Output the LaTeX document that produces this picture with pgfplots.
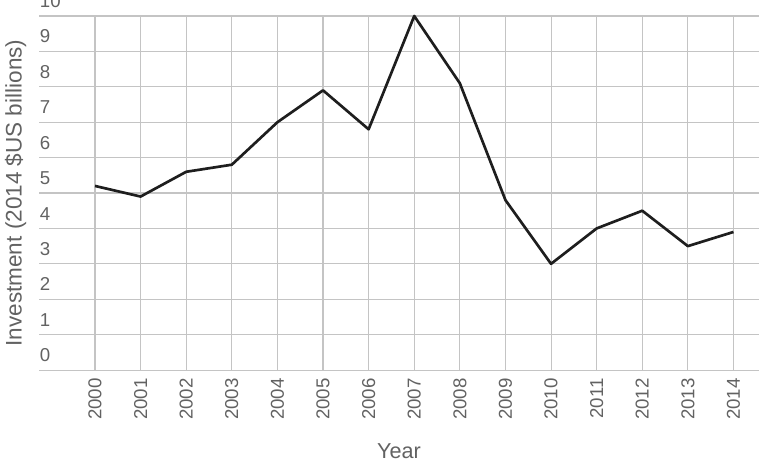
\documentclass[border=0pt]{standalone}
\usepackage{fontspec}
\setmainfont{Liberation Sans}
\usepackage{pgfplots}
\pgfplotsset{compat=1.18}
\definecolor{txt}{HTML}{626262}
\definecolor{gridc}{HTML}{C4C4C4}
\definecolor{linec}{HTML}{1E1E1E}
\begin{document}
\begin{tikzpicture}
\begin{axis}[
  scale only axis,
  width=539.95pt, height=265.5pt,
  xmin=1998.772, xmax=2014.56,
  ymin=0, ymax=10,
  xtick={2000,2001,...,2014},
  ytick={0,1,...,10},
  xticklabel={\pgfmathprintnumber[1000 sep={}]{\tick}},
  /pgf/number format/assume math mode=true,
  /pgf/number format/1000 sep={},
  grid=major,
  major grid style={draw=gridc, line width=0.8pt},
  axis line style={draw=none},
  major tick length=0pt,
  tick label style={font=\fontsize{14}{16}\selectfont, text=txt},
  xticklabel style={rotate=90, anchor=east, inner sep=0pt},
  xticklabel shift=6pt,
  yticklabel style={anchor=south west, inner sep=0pt, xshift=0.5pt, yshift=6pt},
  every axis y label/.style={at={(rel axis cs:0,0.5)}, xshift=-17.6pt, rotate=90, anchor=center, font=\fontsize{16.9}{19}\selectfont, text=txt},
  every axis x label/.style={at={(rel axis cs:0.5,0)}, yshift=-60.75pt, anchor=center, font=\fontsize{16.2}{19}\selectfont, text=txt},
  ylabel={Investment (2014 \$US billions)},
  xlabel={Year},
  clip=false,
]
\addplot[linec, line width=2pt, line join=round, mark=none] coordinates {
  (2000,5.2) (2001,4.9) (2002,5.6) (2003,5.8) (2004,7.0) (2005,7.9) (2006,6.8)
  (2007,10.0) (2008,8.1) (2009,4.8) (2010,3.0) (2011,4.0) (2012,4.5) (2013,3.5) (2014,3.9)
};
\coordinate (bl) at (rel axis cs:0,0);
\coordinate (tr) at (rel axis cs:1,1);
\end{axis}
\pgfresetboundingbox
\path[use as bounding box] ([xshift=-29.25pt, yshift=-71.25pt]bl) rectangle ([yshift=12pt]tr);
\end{tikzpicture}
\end{document}
